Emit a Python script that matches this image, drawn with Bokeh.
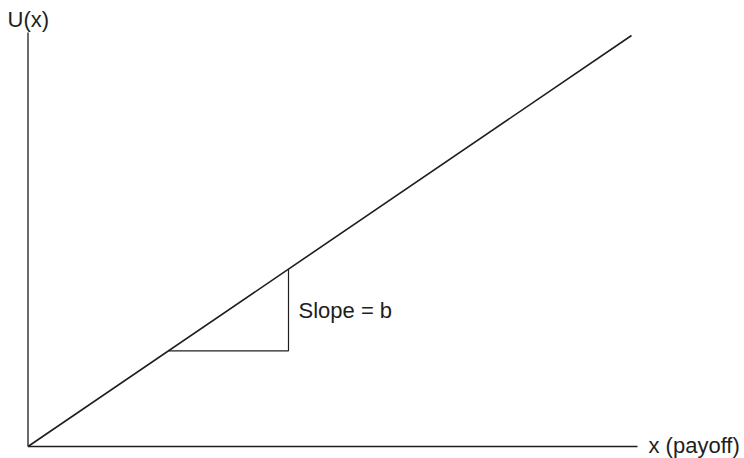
from bokeh.plotting import figure
from bokeh.models import Range1d, ColumnDataSource
from bokeh.core.properties import value
from bokeh.embed import file_html
from bokeh.resources import INLINE

# Linear utility U(x) = b * x
slope_b = 0.681
line_x = [0.0, 603.5]                 # extent of the utility line (x units)
axis_x_end = 609.5                    # end of horizontal axis
axis_y_end = 414.0                    # end of vertical axis
tri_x = [140.5, 260.5]                # run of the slope triangle

labels = ["U(x)", "x (payoff)", "Slope = b"]
label_x = [-20.5, 620.5, 270.5]
label_y = [427.0, 1.5, 136.0]

INK = "#1e1e1e"
FONT = "Liberation Sans"

p = figure(width=744, height=458, output_backend="svg", toolbar_location=None,
           x_range=Range1d(-27.5, 716.5), y_range=Range1d(-12, 446),
           min_border=0)
p.axis.visible = False
p.xgrid.visible = False
p.ygrid.visible = False
p.outline_line_color = None
p.background_fill_color = "white"
p.border_fill_color = "white"

# axes
p.line([0, 0], [0, axis_y_end], line_color=INK, line_width=1.3)
p.line([0, axis_x_end], [0, 0], line_color=INK, line_width=1.3)

# utility line
line_u = [slope_b * v for v in line_x]
p.line(line_x, line_u, line_color=INK, line_width=1.6)

# slope triangle
ty0 = slope_b * tri_x[0]
ty1 = slope_b * tri_x[1]
p.line([tri_x[0], tri_x[1], tri_x[1]], [ty0, ty0, ty1], line_color=INK, line_width=1.2)

src = ColumnDataSource(dict(x=label_x, y=label_y, t=labels))
p.text(x="x", y="y", text="t", source=src, text_font=value(FONT),
       text_font_size="22px", text_color=INK, text_baseline="alphabetic",
       text_align="left")

open("out.html", "w").write(file_html(p, INLINE))
